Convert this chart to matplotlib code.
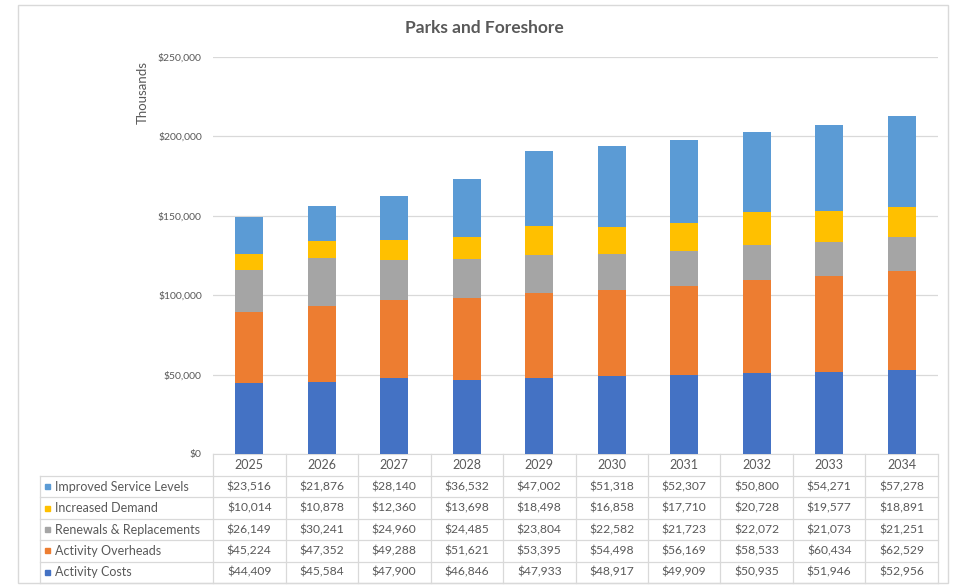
import matplotlib
matplotlib.use("Agg")
import matplotlib.pyplot as plt
from matplotlib.patches import Rectangle
from matplotlib.transforms import blended_transform_factory
from matplotlib.ticker import FuncFormatter, MultipleLocator

plt.rcParams['font.family'] = ['Lato', 'DejaVu Sans']

years = ["2025", "2026", "2027", "2028", "2029", "2030", "2031", "2032", "2033", "2034"]
activity_costs = [44409, 45584, 47900, 46846, 47933, 48917, 49909, 50935, 51946, 52956]
activity_overheads = [45224, 47352, 49288, 51621, 53395, 54498, 56169, 58533, 60434, 62529]
renewals = [26149, 30241, 24960, 24485, 23804, 22582, 21723, 22072, 21073, 21251]
increased_demand = [10014, 10878, 12360, 13698, 18498, 16858, 17710, 20728, 19577, 18891]
improved_service = [23516, 21876, 28140, 36532, 47002, 51318, 52307, 50800, 54271, 57278]

# stacking order, bottom to top
series = [
    ("Activity Costs", activity_costs, "#4472C4"),
    ("Activity Overheads", activity_overheads, "#ED7D31"),
    ("Renewals & Replacements", renewals, "#A5A5A5"),
    ("Increased Demand", increased_demand, "#FFC000"),
    ("Improved Service Levels", improved_service, "#5B9BD5"),
]

W, H = 957, 585
fig = plt.figure(figsize=(W / 100, H / 100), dpi=100)

def fx(px):
    return px / W

def fy(py):
    return 1 - py / H

# chart frame
fig.patches.append(Rectangle((fx(18), fy(583)), fx(948) - fx(18), fy(5) - fy(583),
                             transform=fig.transFigure, fill=False,
                             edgecolor="#D9D9D9", linewidth=1.0))

ax_l, ax_r, ax_t, ax_b = 213, 938, 57, 454
ax = fig.add_axes([fx(ax_l), fy(ax_b), fx(ax_r) - fx(ax_l), fy(ax_t) - fy(ax_b)])

x = list(range(len(years)))
bottom = [0] * len(years)
for name, vals, col in series:
    ax.bar(x, vals, width=0.39, bottom=bottom, color=col, label=name, zorder=3)
    bottom = [b + v for b, v in zip(bottom, vals)]

ax.set_xlim(-0.5, len(years) - 0.5)
ax.set_ylim(0, 250000)
ax.yaxis.set_major_locator(MultipleLocator(50000))
ax.yaxis.set_major_formatter(FuncFormatter(lambda v, p: f"${v:,.0f}"))
ax.grid(axis="y", color="#D9D9D9", linewidth=0.9, zorder=0)
for s in ["left", "right", "top"]:
    ax.spines[s].set_visible(False)
ax.spines["bottom"].set_color("#D9D9D9")
ax.set_xticks([])
ax.tick_params(axis="y", length=0, labelsize=7.5, labelcolor="#595959", pad=8)

fig.text(fx(143), fy(92), "Thousands", rotation=90, ha="center", va="center",
         fontsize=9.5, color="#595959")
fig.text(fx(484), fy(28), "Parks and Foreshore", ha="center", va="center",
         fontsize=12.5, color="#595959", fontweight="bold")

# data table under the plot
tr = blended_transform_factory(ax.transData, fig.transFigure)
line_col = "#D9D9D9"
hdr_top, hdr_bot = 454, 476
row_h = (583 - hdr_bot) / 5
label_left = -0.5 - (213 - 40) / 72.5

# header row
for i, yr in enumerate(years):
    ax.text(i, fy((hdr_top + hdr_bot) / 2), yr, transform=tr, ha="center", va="center",
            fontsize=9, color="#595959", clip_on=False)
for i in range(len(years) + 1):
    ax.plot([i - 0.5, i - 0.5], [fy(hdr_top), fy(583)], transform=tr,
            color=line_col, lw=0.9, clip_on=False)
ax.plot([label_left, label_left], [fy(hdr_bot), fy(583)], transform=tr,
        color=line_col, lw=0.9, clip_on=False)

rows = list(reversed(series))
for r in range(6):
    yy = hdr_bot + r * row_h
    ax.plot([label_left, len(years) - 0.5], [fy(yy), fy(yy)], transform=tr,
            color=line_col, lw=0.9, clip_on=False)

for r, (name, vals, col) in enumerate(rows):
    yc = fy(hdr_bot + (r + 0.5) * row_h)
    fig.patches.append(Rectangle((fx(45), yc - 2.5 / H), 5 / W, 5 / H,
                                 transform=fig.transFigure, color=col))
    fig.text(fx(55), yc, name, ha="left", va="center", fontsize=9, color="#595959")
    for i, v in enumerate(vals):
        ax.text(i, yc, f"${v:,}", transform=tr, ha="center", va="center",
                fontsize=8.7, color="#595959", clip_on=False)

fig.savefig("out.png", dpi=100)
